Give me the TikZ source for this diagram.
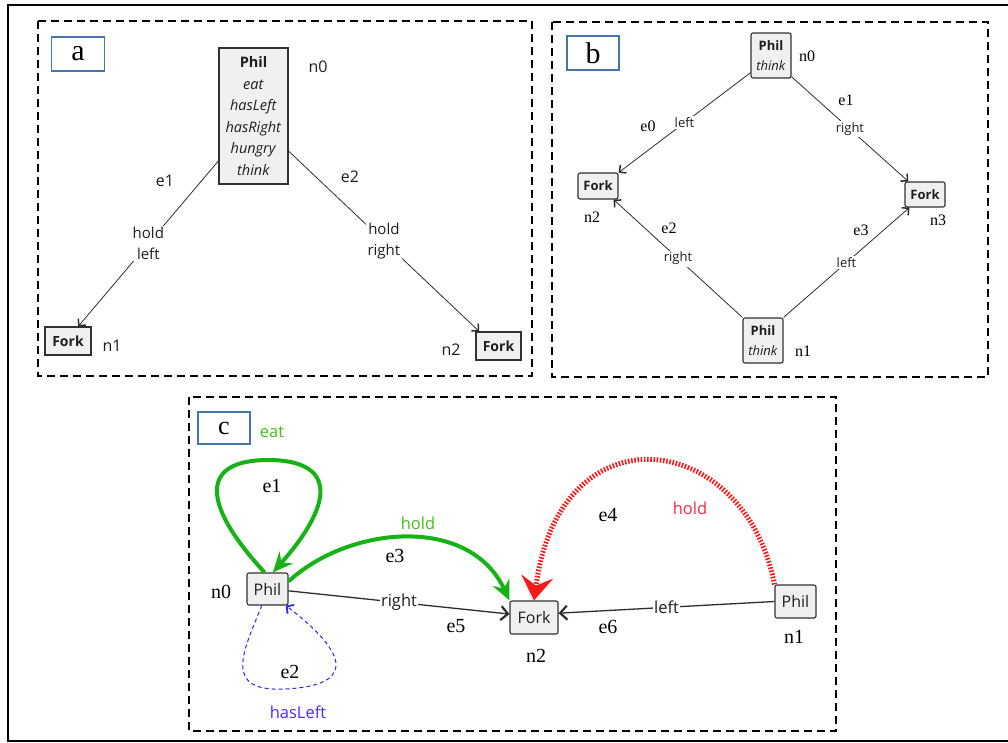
\documentclass[tikz,border=0pt]{standalone}
\usepackage{fontspec}
\setmainfont{Liberation Serif}
\newfontfamily\uisans{Open Sans}
\usetikzlibrary{arrows.meta}

\definecolor{tagblue}{RGB}{72,116,172}
\definecolor{boxfill}{RGB}{240,240,240}
\definecolor{boxline}{RGB}{50,50,50}
\definecolor{inkgray}{RGB}{30,30,30}
\definecolor{edgegray}{RGB}{45,45,45}
\definecolor{loopgreen}{RGB}{22,178,22}
\definecolor{labelgreen}{RGB}{70,190,30}
\definecolor{holdred}{RGB}{255,25,25}
\definecolor{labelred}{RGB}{250,40,70}
\definecolor{dashblue}{RGB}{40,40,255}
\definecolor{labelblue}{RGB}{80,40,240}

\tikzset{
  tag/.style={draw=tagblue, line width=1.6pt, inner sep=0pt, text=black},
  panel/.style={line width=2pt, dash pattern=on 8pt off 5pt},
  classbox/.style={draw=boxline, fill=boxfill, line width=1.1pt, inner sep=0pt, align=center, text=inkgray},
  roundbox/.style={classbox, rounded corners=2pt},
  sl/.style={font=\uisans\fontsize{#1}{#1}\selectfont, inner sep=0pt, text=inkgray},
  rl/.style={font=\fontsize{#1}{#1}\selectfont, inner sep=0pt, text=black},
  onedge/.style={fill=white, inner sep=1.5pt, align=center},
  thinarrow/.style={draw=edgegray, line width=0.8pt, -{Straight Barb[length=5pt,width=10pt,line width=1.5pt]}},
  darkarrow/.style={draw=edgegray, line width=1.3pt, -{Straight Barb[length=7pt,width=14pt,line width=2.2pt]}},
  greenarrow/.style={draw=loopgreen, line width=4pt, -{Stealth[length=20pt,width=18pt,inset=7pt]}},
  redarrow/.style={draw=holdred, line width=5pt, dash pattern=on 1.6pt off 1.6pt, -{Stealth[length=24pt,width=32pt,inset=9pt]}},
  bluearrow/.style={draw=dashblue, line width=1pt, dash pattern=on 4pt off 3pt, -{Straight Barb[length=5pt,width=11pt,line width=1.8pt]}},
}

\begin{document}
\begin{tikzpicture}[x=1pt, y=-1pt]
\useasboundingbox (0,0) rectangle (1008,742);
\fill[white] (0,0) rectangle (1008,742);

% outer frame (open on the right)
\draw[line width=2pt] (1015,5) -- (8,5) -- (8,740.5) -- (1015,740.5);

% ---------------- panel a ----------------
\draw[panel] (38,21) rectangle (532,376);
\node[tag, minimum width=53pt, minimum height=34pt, font=\fontsize{30}{30}\selectfont] (taga) at (78,54) {a};

\node[classbox, minimum width=69pt, minimum height=136pt, font=\uisans\fontsize{14.5}{21.6}\selectfont] (a0) at (253.5,116)
  {\textbf{Phil}\\ \textit{eat}\\ \textit{hasLeft}\\ \textit{hasRight}\\ \textit{hungry}\\ \textit{think}};
\node[classbox, minimum width=46pt, minimum height=28pt, font=\uisans\bfseries\fontsize{14}{14}\selectfont] (a1) at (68,341) {Fork};
\node[classbox, minimum width=45pt, minimum height=28pt, font=\uisans\bfseries\fontsize{14}{14}\selectfont] (a2) at (498.5,346) {Fork};

\node[sl=16] (a0lab) at (318,67) {n0};
\node[sl=16] (a1lab) at (112,346) {n1};
\node[sl=16] (a2lab) at (451,350) {n2};

\draw[thinarrow] (a0.232) -- node[onedge, font=\uisans\fontsize{15}{21}\selectfont, text=inkgray] (ae1) {hold\\left} (a1.55);
\draw[thinarrow] (a0.315) -- node[onedge, font=\uisans\fontsize{15}{21}\selectfont, text=inkgray] (ae2) {hold\\right} (a2.143);
\node[sl=16] (ae1lab) at (165,181) {e1};
\node[sl=16] (ae2lab) at (350,177) {e2};

% ---------------- panel b ----------------
\draw[panel] (552,22) rectangle (988,377);
\node[tag, minimum width=52pt, minimum height=34pt, font=\fontsize{30}{30}\selectfont] (tagb) at (593,53) {b};

\node[roundbox, minimum width=40pt, minimum height=45pt, font=\uisans\fontsize{13}{20}\selectfont] (b0) at (771,55.5) {\textbf{Phil}\\ \textit{think}};
\node[roundbox, minimum width=40pt, minimum height=45pt, font=\uisans\fontsize{13}{20}\selectfont] (b1) at (763,340.5) {\textbf{Phil}\\ \textit{think}};
\node[roundbox, minimum width=40pt, minimum height=26pt, font=\uisans\bfseries\fontsize{13}{13}\selectfont] (b2) at (598,186) {Fork};
\node[roundbox, minimum width=40pt, minimum height=25pt, font=\uisans\bfseries\fontsize{13}{13}\selectfont] (b3) at (925,194.5) {Fork};

\node[rl=16] (b0lab) at (807,56) {n0};
\node[rl=16] (b1lab) at (803,351) {n1};
\node[rl=16] (b2lab) at (592,217) {n2};
\node[rl=16] (b3lab) at (938,220) {n3};

\draw[thinarrow] (b0.220) -- node[onedge, sl=13, inner sep=1.5pt] (be0) {left} (b2.33);
\draw[thinarrow] (b0.314) -- node[onedge, sl=13, inner sep=1.5pt] (be1) {right} (b3.142);
\draw[thinarrow] (b1.north west) -- node[onedge, sl=13, inner sep=1.5pt] (be2) {right} (b2.319);
\draw[thinarrow] (b1.north east) -- node[onedge, sl=13, inner sep=1.5pt] (be3) {left} (b3.220);
\node[rl=16] (be0lab) at (648,126) {e0};
\node[rl=16] (be1lab) at (846,100) {e1};
\node[rl=16] (be2lab) at (669,228) {e2};
\node[rl=16] (be3lab) at (861,230) {e3};

% ---------------- panel c ----------------
\draw[panel] (189,397) rectangle (836,731);
\node[tag, minimum width=52pt, minimum height=32pt, font=\fontsize{26}{26}\selectfont] (tagc) at (224,428) {c};

\node[roundbox, minimum width=41pt, minimum height=32pt, font=\uisans\fontsize{16}{16}\selectfont] (c0) at (267.5,589) {Phil};
\node[roundbox, minimum width=48pt, minimum height=33pt, font=\uisans\fontsize{16}{16}\selectfont] (c2) at (534,617.5) {Fork};
\node[roundbox, minimum width=41pt, minimum height=33pt, font=\uisans\fontsize{16}{16}\selectfont] (c1) at (795.5,601.5) {Phil};

\node[rl=20] (c0lab) at (221,592) {n0};
\node[rl=20] (c2lab) at (536,656) {n2};
\node[rl=20] (c1lab) at (794,637) {n1};

% plain associations
\draw[darkarrow] (c0.-5) -- node[onedge, sl=16.5, inner sep=1.5pt] (ce5) {right} (c2.172);
\draw[darkarrow] (c1.west) -- node[onedge, sl=16.5, inner sep=1.5pt] (ce6) {left} (c2.10);
\node[rl=20] (ce5lab) at (456,626) {e5};
\node[rl=20] (ce6lab) at (608,627) {e6};

% eat: self loop on Phil
\draw[greenarrow] (c0.100) .. controls (198,500) and (203,460) .. (268,460)
  .. controls (334,460) and (337,500) .. (c0.72);
\node[sl=16.5, text=labelgreen] (eatlab) at (272,432) {eat};
\node[rl=20] (ce1lab) at (272,486) {e1};

% hold: Phil to Fork
\draw[greenarrow] (c0.20) .. controls (350,525) and (470,515) .. (c2.north west);
\node[sl=16.5, text=labelgreen] (holdg) at (418,523) {hold};
\node[rl=20] (ce3lab) at (395,556) {e3};

% hold: second Phil to Fork
\draw[redarrow] (c1.north west) .. controls (745,430) and (560,405) .. (c2.north);
\node[sl=16.5, text=labelred] (holdr) at (690,508) {hold};
\node[rl=20] (ce4lab) at (608,515) {e4};

% hasLeft: dashed self loop
\draw[bluearrow] (c0.251) .. controls (243,652) and (222,692) .. (285,689)
  .. controls (348,686) and (357,660) .. (c0.318);
\node[rl=20] (ce2lab) at (290,672) {e2};
\node[sl=16.5, text=labelblue] (hasleft) at (298,712) {hasLeft};

\end{tikzpicture}
\end{document}
